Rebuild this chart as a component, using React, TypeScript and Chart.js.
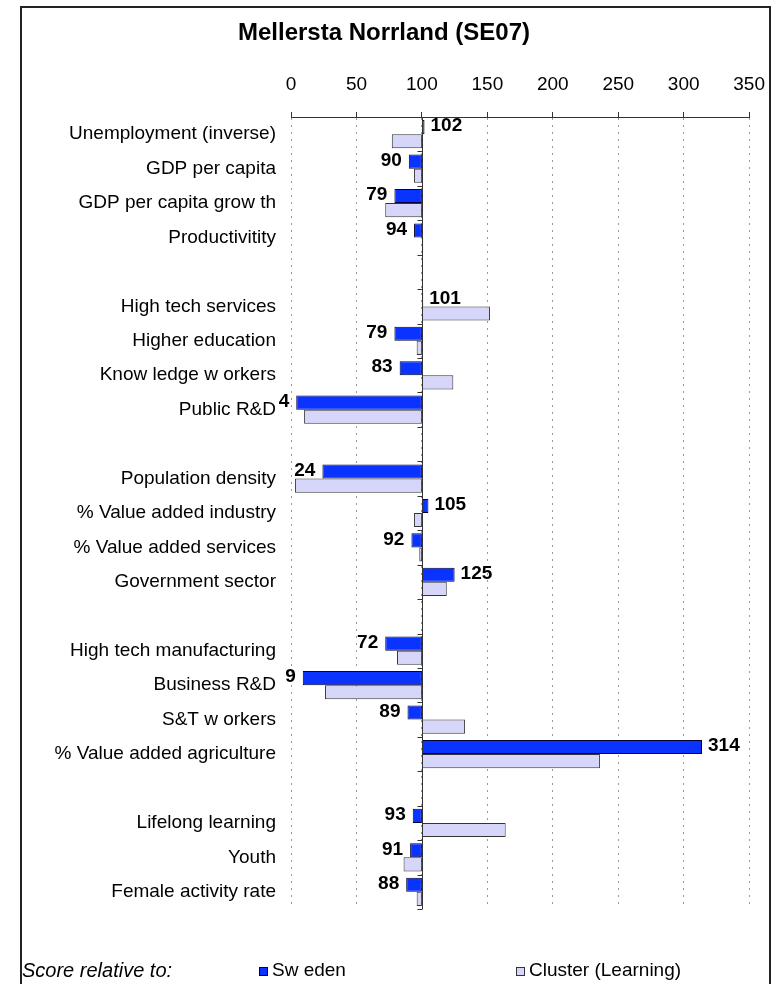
import { useEffect, useRef } from 'react';
import { Chart, registerables } from 'chart.js';

Chart.register(...registerables);

const chartTitle = 'Mellersta Norrland (SE07)';
const categories = [
  'Unemployment (inverse)', 'GDP per capita', 'GDP per capita grow th', 'Productivitity', '',
  'High tech services', 'Higher education', 'Know ledge w orkers', 'Public R&D', '',
  'Population density', '% Value added industry', '% Value added services', 'Government sector', '',
  'High tech manufacturing', 'Business R&D', 'S&T w orkers', '% Value added agriculture', '',
  'Lifelong learning', 'Youth', 'Female activity rate',
];
const swedenScores = [102, 90, 79, 94, null, 101, 79, 83, 4, null, 24, 105, 92, 125, null, 72, 9, 89, 314, null, 93, 91, 88];
const clusterScores = [77, 94, 72, 101, null, 152, 96, 124, 10, null, 3, 94, 98, 119, null, 81, 26, 133, 236, null, 164, 86, 96];
const seriesNames = ['Sw eden', 'Cluster (Learning)'];
const legendCaption = 'Score relative to:';
const xMin = 0;
const xMax = 350;
const xStep = 50;
const baseline = 100;

const FONT = '"Liberation Sans", Arial, sans-serif';
const FS = 19;

export default function App() {
  const ref = useRef<HTMLCanvasElement>(null);
  useEffect(() => {
    const canvas = ref.current;
    if (!canvas) return;

    const decor = {
      id: 'decor',
      beforeDraw(chart: any) {
        const ctx = chart.ctx;
        ctx.save();
        ctx.fillStyle = '#ffffff';
        ctx.fillRect(0, 0, chart.width, chart.height);
        ctx.restore();
      },
      afterDatasetsDraw(chart: any) {
        const ctx = chart.ctx;
        const xs = chart.scales.x;
        const ys = chart.scales.y;
        const area = chart.chartArea;
        ctx.save();
        const bx = Math.round(xs.getPixelForValue(baseline)) + 0.5;
        ctx.strokeStyle = '#333333';
        ctx.lineWidth = 1;
        ctx.setLineDash([]);
        ctx.beginPath();
        ctx.moveTo(bx, area.top);
        ctx.lineTo(bx, area.bottom);
        ctx.stroke();
        const n = categories.length;
        const step = (ys.getPixelForValue(n - 1) - ys.getPixelForValue(0)) / (n - 1);
        for (let i = 0; i <= n; i++) {
          const y = Math.round(ys.getPixelForValue(i) - step / 2) + 0.5;
          ctx.beginPath();
          ctx.moveTo(bx - 5, y);
          ctx.lineTo(bx, y);
          ctx.stroke();
        }
        ctx.beginPath();
        ctx.moveTo(area.left, Math.round(area.top) + 0.5);
        ctx.lineTo(area.right, Math.round(area.top) + 0.5);
        ctx.stroke();

        const meta = chart.getDatasetMeta(0);
        ctx.fillStyle = '#000000';
        ctx.font = `bold ${FS}px ${FONT}`;
        ctx.textBaseline = 'middle';
        meta.data.forEach((el: any, i: number) => {
          const v = swedenScores[i];
          if (v == null) return;
          const px = xs.getPixelForValue(v);
          if (v >= baseline) {
            ctx.textAlign = 'left';
            ctx.fillText(String(v), px + 6, el.y - 1);
          } else {
            ctx.textAlign = 'right';
            ctx.fillText(String(v), px - 7, el.y - 1);
          }
        });
        ctx.restore();
      },
      afterDraw(chart: any) {
        const ctx = chart.ctx;
        ctx.save();
        ctx.strokeStyle = '#222222';
        ctx.lineWidth = 2;
        ctx.strokeRect(21, 7, 749, 1000);
        ctx.fillStyle = '#000000';
        ctx.font = `bold 24px ${FONT}`;
        ctx.textAlign = 'center';
        ctx.textBaseline = 'middle';
        ctx.fillText(chartTitle, 384, 33);
        const ly = 971;
        ctx.font = `italic 20px ${FONT}`;
        ctx.textAlign = 'left';
        ctx.fillText(legendCaption, 22, ly);
        const ds = chart.data.datasets;
        const xsPos = [259, 516];
        ds.forEach((d: any, i: number) => {
          const sx = xsPos[i];
          ctx.fillStyle = d.backgroundColor;
          ctx.fillRect(sx, ly - 4, 9, 9);
          ctx.strokeStyle = d.borderColor;
          ctx.lineWidth = 1;
          ctx.strokeRect(sx + 0.5, ly - 3.5, 8, 8);
          ctx.fillStyle = '#000000';
          ctx.font = `${FS}px ${FONT}`;
          ctx.fillText(seriesNames[i], sx + 13, ly);
        });
        ctx.restore();
      },
    };

    const chart = new Chart(canvas, {
      type: 'bar',
      data: {
        labels: categories,
        datasets: [
          {
            label: seriesNames[0],
            data: swedenScores.map((v) => (v == null ? null : [baseline, v])) as any,
            backgroundColor: '#0A33FF',
            borderColor: '#000033',
            borderWidth: 1,
            borderSkipped: false,
          },
          {
            label: seriesNames[1],
            data: clusterScores.map((v) => (v == null ? null : [baseline, v])) as any,
            backgroundColor: '#D6D6FA',
            borderColor: '#333333',
            borderWidth: 1,
            borderSkipped: false,
          },
        ],
      },
      options: {
        indexAxis: 'y',
        responsive: false,
        animation: false,
        events: [],
        layout: { padding: { left: 0, right: 29, top: 45, bottom: 75 } },
        datasets: { bar: { categoryPercentage: 0.82, barPercentage: 1 } },
        plugins: { legend: { display: false }, tooltip: { enabled: false }, title: { display: false } },
        scales: {
          x: {
            type: 'linear',
            position: 'top',
            min: xMin,
            max: xMax,
            ticks: { stepSize: xStep, color: '#000000', font: { family: FONT, size: FS }, padding: 16 },
            grid: {
              color: '#9a9a9a',
              lineWidth: 1,
              drawTicks: true,
              tickLength: 5,
              tickColor: '#333333',
              tickBorderDash: [],
            },
            border: { display: true, color: '#333333', width: 1, dash: [2, 5] },
            afterFit: (s: any) => { s.height = 117 - 45; },
          },
          y: {
            type: 'category',
            position: 'left',
            ticks: { color: '#000000', font: { family: FONT, size: FS }, padding: 15, autoSkip: false },
            grid: { display: false, drawTicks: false },
            border: { display: false },
            afterFit: (s: any) => { s.width = 291; },
          },
        },
      },
      plugins: [decor],
    });
    return () => chart.destroy();
  }, []);

  return (
    <div style={{ position: 'fixed', left: 0, top: 0, width: 781, height: 984 }}>
      <canvas ref={ref} width={781} height={984} style={{ display: 'block', width: 781, height: 984 }} />
    </div>
  );
}
